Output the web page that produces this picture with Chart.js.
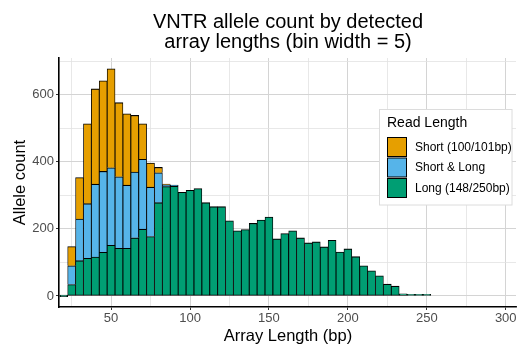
<!DOCTYPE html>
<html>
<head>
<meta charset="utf-8">
<script src="https://cdn.jsdelivr.net/npm/chart.js@4.4.1/dist/chart.umd.min.js"></script>
<style>
  html, body { margin: 0; padding: 0; background: #ffffff; }
  canvas { display: block; }
</style>
</head>
<body>
<canvas id="chart" width="518" height="347"></canvas>
<script>
// Histogram bins (centre of each 5 bp bin)
const binCenters = [20, 25, 30, 35, 40, 45, 50, 55, 60, 65, 70, 75, 80, 85, 90, 95,
  100, 105, 110, 115, 120, 125, 130, 135, 140, 145, 150, 155, 160, 165, 170, 175,
  180, 185, 190, 195, 200, 205, 210, 215, 220, 225, 230, 235, 240, 245, 250];

// Allele counts per bin for each read-length class
const longCounts = [0, 34, 105, 112, 116, 130, 151, 142, 142, 173, 199, 177, 278, 326, 327, 309,
  315, 320, 278, 266, 266, 224, 194, 198, 216, 226, 235, 170, 186, 194, 173, 158,
  161, 146, 166, 131, 140, 117, 90, 75, 60, 35, 29, 6, 3, 1, 1];
const shortLongCounts = [0, 56, 124, 163, 217, 241, 231, 213, 188, 196, 208, 147, 89, 5, 3, 0,
  0, 0, 0, 0, 0, 0, 0, 0, 0, 0, 0, 0, 0, 0, 0, 0,
  0, 0, 0, 0, 0, 0, 0, 0, 0, 0, 0, 0, 0, 0, 0];
const shortCounts = [0, 57, 124, 238, 284, 270, 295, 221, 213, 169, 106, 72, 16, 2, 0, 0,
  0, 0, 0, 0, 0, 0, 0, 0, 0, 0, 0, 0, 0, 0, 0, 0,
  0, 0, 0, 0, 0, 0, 0, 0, 0, 0, 0, 0, 0, 0, 0];

// Labelled axis ticks
const xTickLabels = [50, 100, 150, 200, 250, 300];
const yTickLabels = [0, 200, 400, 600];

const seriesNames = ['Short (100/101bp)', 'Short & Long', 'Long (148/250bp)'];
const COLORS = { short: '#E69F00', both: '#56B4E9', long: '#009E73' };
const FONT = '"Liberation Sans", Arial, Helvetica, sans-serif';

Chart.defaults.font.family = FONT;

const toPoints = (vals) => binCenters.map((x, i) => ({ x: x, y: vals[i] }));

// Title, axis titles and legend box
const annotations = {
  id: 'annotations',
  afterDraw(chart) {
    const ctx = chart.ctx;
    ctx.save();
    ctx.fillStyle = '#000000';
    ctx.textAlign = 'center';
    ctx.textBaseline = 'alphabetic';
    ctx.font = '20px ' + FONT;
    ctx.fillText('VNTR allele count by detected', 288, 27.5);
    ctx.fillText('array lengths (bin width = 5)', 288, 48);

    ctx.font = '16.5px ' + FONT;
    ctx.fillText('Array Length (bp)', 288, 341);
    ctx.save();
    ctx.translate(25, 182.5);
    ctx.rotate(-Math.PI / 2);
    ctx.fillText('Allele count', 0, 0);
    ctx.restore();

    // legend
    const lx = 379.5, ly = 109.5, lw = 132.5, lh = 95.5;
    ctx.fillStyle = '#ffffff';
    ctx.fillRect(lx, ly, lw, lh);
    ctx.strokeStyle = '#dcdcdc';
    ctx.lineWidth = 1;
    ctx.strokeRect(lx, ly, lw, lh);
    ctx.textAlign = 'left';
    ctx.textBaseline = 'middle';
    ctx.fillStyle = '#000000';
    ctx.font = '14px ' + FONT;
    ctx.fillText('Read Length', 387, 123);
    const swatches = [COLORS.short, COLORS.both, COLORS.long];
    const tops = [137.5, 158, 178.5];
    ctx.font = '12px ' + FONT;
    swatches.forEach((c, i) => {
      ctx.fillStyle = c;
      ctx.fillRect(387.5, tops[i], 19, 19);
      ctx.strokeStyle = '#000000';
      ctx.lineWidth = 1;
      ctx.strokeRect(387.5, tops[i], 19, 19);
      ctx.fillStyle = '#000000';
      ctx.fillText(seriesNames[i], 415, tops[i] + 10);
    });
    ctx.restore();
  }
};

const gridColor = (major) => (ctx) => {
  const v = ctx.tick ? ctx.tick.value : 0;
  return major(v) ? '#d4d4d4' : '#e2e2e2';
};

new Chart(document.getElementById('chart'), {
  type: 'bar',
  data: {
    datasets: [
      {
        label: seriesNames[2],
        data: toPoints(longCounts),
        backgroundColor: COLORS.long,
        borderColor: '#000000',
        borderWidth: { top: 1.1, bottom: 1, left: 0.85, right: 0.85 },
        borderSkipped: false,
        minBarLength: 1.5
      },
      {
        label: seriesNames[1],
        data: toPoints(shortLongCounts),
        backgroundColor: COLORS.both,
        borderColor: '#000000',
        borderWidth: { top: 1.1, bottom: 0, left: 0.85, right: 0.85 },
        borderSkipped: false
      },
      {
        label: seriesNames[0],
        data: toPoints(shortCounts),
        backgroundColor: COLORS.short,
        borderColor: '#000000',
        borderWidth: { top: 1.1, bottom: 0, left: 0.85, right: 0.85 },
        borderSkipped: false
      }
    ]
  },
  options: {
    responsive: false,
    animation: false,
    barPercentage: 1,
    categoryPercentage: 1,
    layout: { padding: { top: 58, right: 2, left: 0, bottom: 0 } },
    plugins: {
      legend: { display: false },
      title: { display: false },
      tooltip: { enabled: false }
    },
    scales: {
      x: {
        type: 'linear',
        stacked: true,
        offset: false,
        min: 17,
        max: 306.5,
        afterFit(s) { s.height = 40; },
        ticks: {
          stepSize: 25,
          includeBounds: false,
          autoSkip: false,
          maxRotation: 0,
          padding: 1,
          color: '#4d4d4d',
          font: { size: 13 },
          callback: (v) => (xTickLabels.includes(v) ? String(v) : '')
        },
        grid: {
          offset: false,
          color: gridColor((v) => v % 50 === 0),
          lineWidth: (ctx) => (ctx.tick && ctx.tick.value % 50 === 0 ? 1 : 0.8),
          tickLength: 3,
          tickColor: (ctx) => (ctx.tick && ctx.tick.value % 50 === 0 ? '#333333' : 'rgba(0,0,0,0)')
        },
        border: { display: true, color: '#000000', width: 1.6 }
      },
      y: {
        stacked: true,
        min: -33,
        max: 709,
        afterFit(s) { s.width = 59; },
        ticks: {
          stepSize: 100,
          includeBounds: false,
          padding: 2,
          color: '#4d4d4d',
          font: { size: 13 },
          callback: (v) => (yTickLabels.includes(v) ? String(v) : '')
        },
        grid: {
          color: gridColor((v) => v % 200 === 0),
          lineWidth: (ctx) => (ctx.tick && ctx.tick.value % 200 === 0 ? 1 : 0.8),
          tickLength: 3,
          tickColor: (ctx) => (ctx.tick && ctx.tick.value % 200 === 0 ? '#333333' : 'rgba(0,0,0,0)')
        },
        border: { display: true, color: '#000000', width: 1.6 }
      }
    }
  },
  plugins: [annotations]
});
</script>
</body>
</html>
